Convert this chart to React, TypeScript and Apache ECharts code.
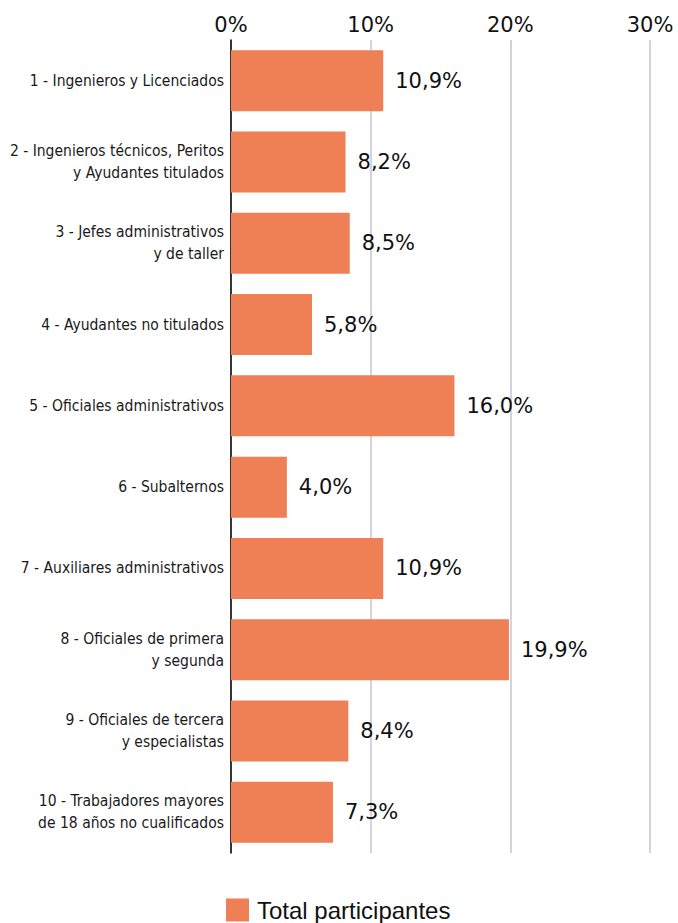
import React, { useEffect, useRef } from "react";
import * as echarts from "echarts";

const categories: string[] = [
  "1 - Ingenieros y Licenciados",
  "2 - Ingenieros técnicos, Peritos\ny Ayudantes titulados",
  "3 - Jefes administrativos\ny de taller",
  "4 - Ayudantes no titulados",
  "5 - Oficiales administrativos",
  "6 - Subalternos",
  "7 - Auxiliares administrativos",
  "8 - Oficiales de primera\ny segunda",
  "9 - Oficiales de tercera\ny especialistas",
  "10 - Trabajadores mayores\nde 18 años no cualificados",
];

const totalParticipantes: number[] = [10.9, 8.2, 8.5, 5.8, 16.0, 4.0, 10.9, 19.9, 8.4, 7.3];

const axisTicks: number[] = [0, 10, 20, 30];
const seriesName = "Total participantes";

export default function App() {
  const ref = useRef<HTMLDivElement>(null);
  useEffect(() => {
    if (!ref.current) return;
    const chart = echarts.init(ref.current, null, { renderer: "svg" });
    chart.setOption({
      animation: false,
      backgroundColor: "#ffffff",
      grid: {
        left: 231,
        right: 28,
        top: 40,
        bottom: 70,
        containLabel: false,
        outerBoundsMode: "none",
      },
      xAxis: {
        type: "value",
        position: "top",
        min: axisTicks[0],
        max: axisTicks[axisTicks.length - 1],
        interval: 10,
        axisLine: { show: false },
        axisTick: { show: false },
        axisLabel: {
          formatter: (v: number) => `${v}%`,
          fontFamily: "DejaVu Sans",
          fontSize: 21,
          color: "#111111",
          margin: 5,
        },
        splitLine: { show: true, lineStyle: { color: "#d2d4dd", width: 2 } },
      },
      yAxis: {
        type: "category",
        inverse: true,
        data: categories,
        axisLine: { show: true, lineStyle: { color: "#000000", width: 1.5 } },
        axisTick: { show: false },
        axisLabel: {
          fontFamily: "Liberation Sans Narrow, Arial Narrow, DejaVu Sans Condensed, sans-serif",
          fontSize: 15.5,
          lineHeight: 22,
          color: "#1a1a1a",
          margin: 7,
          align: "right",
        },
      },
      legend: {
        show: true,
        left: 226,
        top: 898,
        padding: 0,
        itemWidth: 23,
        itemHeight: 23,
        icon: "rect",
        data: [seriesName],
        textStyle: {
          fontFamily: "Liberation Sans, Arial, sans-serif",
          fontSize: 24,
          color: "#111111",
          padding: [0, 0, 0, 3],
        },
      },
      series: [
        {
          name: seriesName,
          type: "bar",
          data: totalParticipantes,
          barCategoryGap: "25%",
          itemStyle: { color: "#ef7f55" },
          label: {
            show: true,
            position: "right",
            distance: 12,
            fontFamily: "DejaVu Sans",
            fontSize: 21,
            color: "#111111",
            formatter: (p: any) => `${Number(p.value).toFixed(1).replace(".", ",")}%`,
          },
        },
      ],
    });
    return () => chart.dispose();
  }, []);
  return (
    <div
      ref={ref}
      style={{ position: "absolute", left: 0, top: 0, width: 678, height: 923 }}
    />
  );
}
